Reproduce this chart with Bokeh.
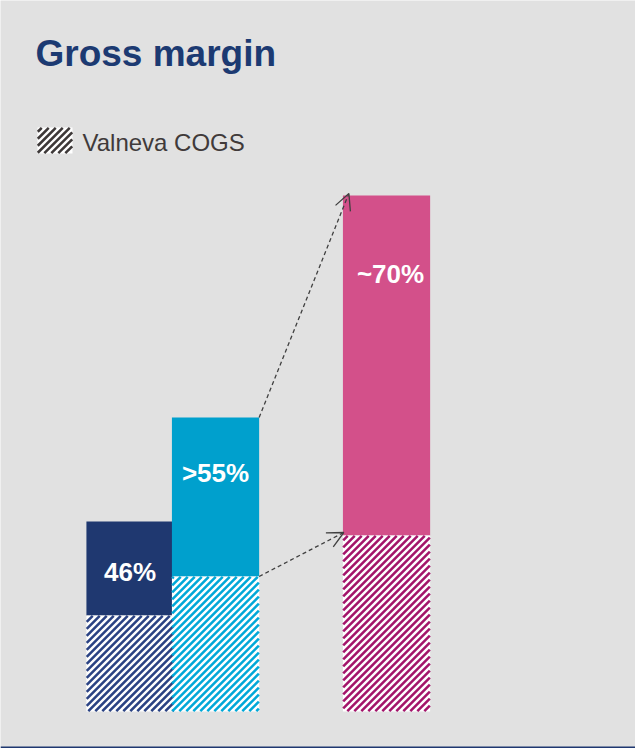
import math
from bokeh.plotting import figure
from bokeh.models import (Range1d, ColumnDataSource, Label, Arrow, OpenHead,
                          Span)
from bokeh.core.properties import value
from bokeh.embed import file_html
from bokeh.resources import INLINE

# ---- data (relative revenue per unit, with COGS share) ----
positions = [0, 1, 3]                     # bar slots
revenue = [1.90, 2.94, 5.16]              # total bar height
cogs = [0.96, 1.35, 1.76]                 # hatched Valneva COGS part
margin_labels = ["46%", ">55%", "~70%"]
label_drop = [0.50, 0.55, 0.78]           # label offset below bar top
top_colors = ["#1f3870", "#00a0cd", "#d3508a"]
hatch_colors = ["#2a4283", "#00a8d8", "#a3146a"]
legend_label = "Valneva COGS"
legend_color = "#3d3838"

BG = "#e1e1e1"
W = 1.02
PW, PH = 635, 748
XR = (-1.515, 5.912)
YR = (-0.37, 7.11)
SX = PW / (XR[1] - XR[0])   # px per data unit
SY = PH / (YR[1] - YR[0])
PERIOD = 7.0                # stripe period in px (horizontal)
WEIGHT = 2.6
INSET = 0.3


def stripes(x0, x1, y0, y1):
    """45-degree '/' stripes clipped to a rectangle (data coords)."""
    X0, X1 = x0 * SX + INSET, x1 * SX - INSET
    Y0, Y1 = y0 * SY + INSET, y1 * SY - INSET
    out = []
    k0 = math.floor((X0 - Y1) / PERIOD)
    k1 = math.ceil((X1 - Y0) / PERIOD)
    for k in range(k0, k1 + 1):
        c = k * PERIOD
        xa, xb = max(X0, Y0 + c), min(X1, Y1 + c)
        if xb - xa > 0.3:
            out.append((xa / SX, (xa - c) / SY, xb / SX, (xb - c) / SY))
    return out


def px_to_data(px, py):
    return XR[0] + px / SX, YR[1] - py / SY


p = figure(width=PW, height=PH, output_backend="svg", toolbar_location=None,
           x_range=Range1d(*XR), y_range=Range1d(*YR),
           min_border=0, background_fill_color=BG, border_fill_color=BG,
           outline_line_color=None)
p.axis.visible = False
p.xgrid.visible = False
p.ygrid.visible = False

src = ColumnDataSource(dict(x=positions, rev=revenue, cogs=cogs,
                            top_color=top_colors, label=margin_labels,
                            ly=[r - d for r, d in zip(revenue, label_drop)],
                            xo=[0, 0, 4]))

# margin (solid) part
p.vbar(x="x", width=W, bottom="cogs", top="rev", source=src,
       fill_color="top_color", line_color=None)
# COGS (hatched) part: white base + diagonal stripes
p.vbar(x="x", width=W, bottom=0, top="cogs", source=src,
       fill_color="white", line_color=None)

seg = dict(x0=[], y0=[], x1=[], y1=[], c=[])
for xp, cg, col in zip(positions, cogs, hatch_colors):
    for a, b, c, d in stripes(xp - W / 2, xp + W / 2, 0, cg):
        seg["x0"].append(a); seg["y0"].append(b)
        seg["x1"].append(c); seg["y1"].append(d); seg["c"].append(col)

# legend swatch
lx0, ly1 = px_to_data(37, 127)
lx1, ly0 = px_to_data(72, 153)
p.quad(left=[lx0], right=[lx1], bottom=[ly0], top=[ly1], fill_color="white",
       line_color=None)
for a, b, c, d in stripes(lx0, lx1, ly0, ly1):
    seg["x0"].append(a); seg["y0"].append(b)
    seg["x1"].append(c); seg["y1"].append(d); seg["c"].append(legend_color)

p.segment(x0="x0", y0="y0", x1="x1", y1="y1", line_color="c",
          line_width=WEIGHT, source=ColumnDataSource(seg))

p.text(x="x", y="ly", text="label", source=src, text_color="white",
       x_offset="xo",
       text_font=value("Liberation Sans"), text_font_style="bold",
       text_font_size="26px", text_align="center", text_baseline="middle")

# dashed arrows bar 2 -> bar 3
head_kw = dict(size=16, line_color="#404040", line_width=1.3)
p.add_layout(Arrow(end=OpenHead(**head_kw),
                   x_start=positions[1] + W / 2, y_start=revenue[1],
                   x_end=positions[2] - W / 2 + 0.07, y_end=revenue[2] + 0.02,
                   line_color="#404040", line_width=1.3, line_dash="4 3"))
p.add_layout(Arrow(end=OpenHead(**head_kw),
                   x_start=positions[1] + W / 2, y_start=cogs[1],
                   x_end=positions[2] - W / 2 + 0.01, y_end=cogs[2] + 0.03,
                   line_color="#404040", line_width=1.3, line_dash="4 3"))

# legend text
p.add_layout(Label(x=82, y=PH - 141.5, x_units="screen", y_units="screen",
                   text=legend_label, text_font="Liberation Sans",
                   text_font_size="24px", text_color="#403a3a",
                   text_baseline="middle"))

# title
p.add_layout(Label(x=35, y=PH - 52.5, x_units="screen", y_units="screen",
                   text="Gross margin", text_font="Liberation Sans",
                   text_font_style="bold", text_font_size="37px",
                   text_color="#1c3a72", text_baseline="middle"))

# bottom rule
p.add_layout(Span(location=-0.36, dimension="width", line_color="#1f3870",
                  line_width=2))

open("out.html", "w").write(file_html(p, INLINE))
